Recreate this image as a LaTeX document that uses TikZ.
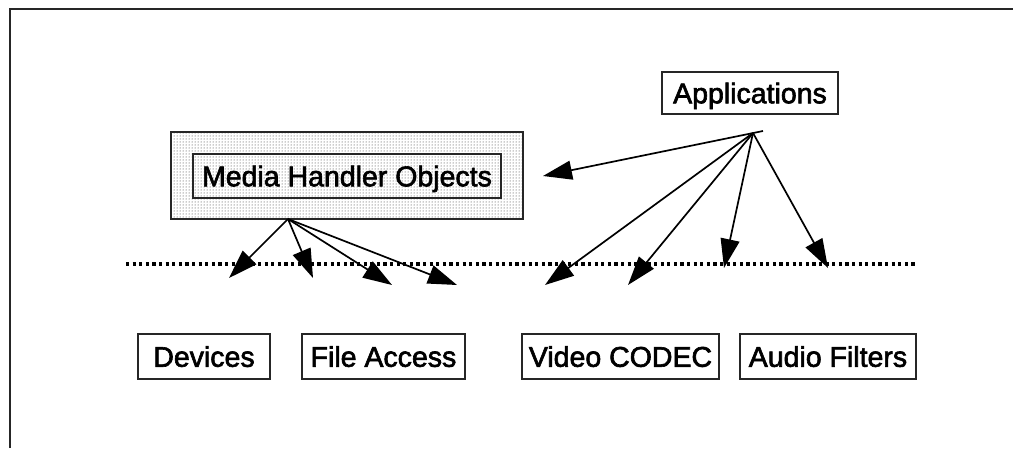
\documentclass[tikz,border=0pt]{standalone}
\usepackage{fontspec}
\setmainfont[FakeBold=2.2]{Liberation Sans}
\usetikzlibrary{arrows.meta,patterns}
\begin{document}
\begin{tikzpicture}[x=1pt,y=-1pt,
  label/.style={font=\fontsize{28.5}{30}\selectfont, text height=20.5pt, text depth=0pt,
                inner sep=0pt, align=center},
  framed/.style={label, draw=black!85, line width=1.8pt},
  arr/.style={line width=1.7pt, -{Triangle[length=29pt,width=19pt]}},
  boundary/.style={line width=3.2pt, dash pattern=on 3.2pt off 3.4pt}]
  \useasboundingbox (0,0) rectangle (1013,448);

  % open frame: top and left edges only
  \draw[line width=2.4pt, black!85] (10,448) -- (10,9) -- (1013,9);

  % media handler objects: stippled panel with an inner label box
  \node[draw=black!85, line width=2pt, pattern=dots, pattern color=black!85,
        minimum width=352pt, minimum height=87pt, inner sep=0pt] (mhopanel) at (347,175.5) {};
  \node[framed, minimum width=308pt, minimum height=44pt] (mho) at (347,176) {Media Handler Objects};

  % applications
  \node[framed, minimum width=176pt, minimum height=42pt] (app) at (750,93) {Applications};

  % lower boxes
  \node[framed, minimum width=132pt, minimum height=45pt] (dev)   at (204,356.5)   {Devices};
  \node[framed, minimum width=163pt, minimum height=45pt] (file)  at (383.5,356.5) {File Access};
  \node[framed, minimum width=197pt, minimum height=45pt] (video) at (620.5,356.5) {Video CODEC};
  \node[framed, minimum width=176pt, minimum height=45pt] (audio) at (828,356.5)   {Audio Filters};

  % dotted boundary
  \coordinate (bl) at (126,264);
  \coordinate (br) at (916,264);
  \draw[boundary] (bl) -- (br);

  % arrows from the media handler objects
  \coordinate (mo) at (288,219);
  \coordinate (m1) at (229,278);
  \coordinate (m2) at (313,278);
  \coordinate (m3) at (392,285);
  \coordinate (m4) at (457,285);
  \foreach \t in {m1,m2,m3,m4} \draw[arr] (mo) -- (\t);

  % arrows from the applications
  \coordinate (ao) at (753,133);
  \coordinate (as) at (763,131);
  \coordinate (a0) at (543,176);
  \coordinate (a1) at (545,285);
  \coordinate (a2) at (628,285);
  \coordinate (a3) at (724,268);
  \coordinate (a4) at (828,268);
  \draw[arr] (as) -- (a0);
  \foreach \t in {a1,a2,a3,a4} \draw[arr] (ao) -- (\t);
\end{tikzpicture}
\end{document}
